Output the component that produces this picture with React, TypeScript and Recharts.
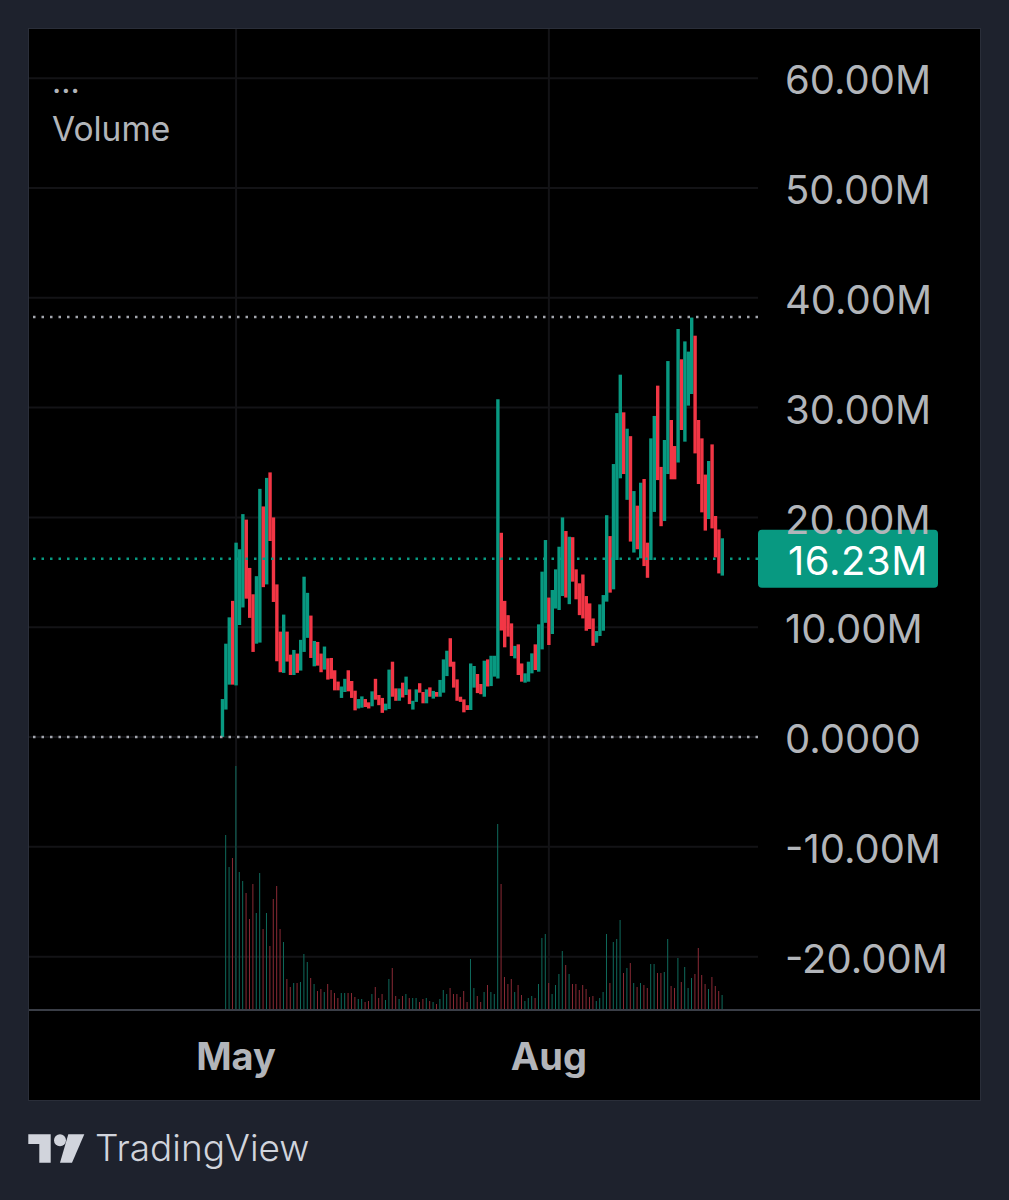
import React from 'react';
import { ComposedChart, Bar, Cell, XAxis, YAxis, CartesianGrid, ReferenceLine } from 'recharts';

// Daily candles, values in millions. U = up (green), D = down (red)
const directions = [
  'U','U','U','D','U','U','U','D','D','D','U','U','D','U','D','D','D','D','U','D',
  'D','U','D','U','U','U','D','U','D','D','U','D','D','D','D','U','U','D','D','D',
  'U','U','D','D','U','D','D','D','U','U','D','D','U','D','U','D','U','U','D','D',
  'U','D','U','D','U','U','U','D','D','D','D','D','D','U','U','D','D','U','D','U',
  'U','U','D','D','D','D','U','D','D','U','U','U','D','U','U','U','D','U','U','U',
  'U','D','U','D','D','D','D','D','D','D','U','U','U','U','D','U','U','U','D','U',
  'D','U','D','U','D','D','U','U','D','D','U','U','D','D','U','D','U','U','U','D',
  'D','D','D','U','D','D','D','U',
];
const lows = [
  0,2.5,4.77,4.77,4.7,10.2,11.8,12.6,10.85,7.75,8.5,8.6,13.65,13.9,17.85,12.3,6.9,5.9,5.84,6.87,
  5.65,5.65,5.84,6.05,7.75,9.03,7.2,6.44,6.5,5.9,6.14,5.23,5.3,4.25,4.25,3.56,4.1,4.16,3.56,2.43,
  2.6,2.67,2.73,2.6,2.8,3.4,2.9,2.2,2.43,2.55,3.67,3.3,3.3,3.6,3.83,3.0,2.5,3.2,4.04,3.07,
  3.07,3.67,3.5,3.67,3.67,4.04,5.55,6.4,4.5,3.3,3.2,2.25,2.46,2.46,4.5,4.0,3.9,3.67,4.6,4.64,
  5.5,5.34,9.7,8.17,9.14,7.38,7.16,5.65,5.04,4.95,5.04,5.8,6.1,5.95,7.98,10.4,8.38,9.38,11.7,11.57,
  12.84,12.7,12.1,14.15,12.54,11.1,10.8,9.68,9.84,8.3,8.6,9.2,9.68,12.33,13.15,13.45,16.12,23.56,23.95,21.6,
  17.8,16.8,17.1,16.27,15.57,14.5,16.12,20.5,23.4,19.2,19.67,23.95,23.47,23.47,25,27.96,26.9,30.18,31.24,25.83,
  23.04,20.46,18.8,19.85,19.0,16.36,14.9,14.7,
];
const highs = [
  3.46,8.5,10.9,12.4,17.7,17.1,20.3,19.8,15.4,13,14.65,22.6,21,23.6,24.1,20,13.9,9.6,11.15,9.6,
  7.5,7.93,7.6,8.85,14.6,13.13,11.06,8.75,8.66,7.6,8.24,7.17,7.2,6.08,5.05,4.6,5.3,6.08,5.1,4.22,
  3.46,3.7,3.46,3.16,4.16,5.3,3.83,3.56,3.04,6.14,6.86,4.43,4.43,4.95,5.5,4.34,3.3,4.34,4.9,4.1,
  4.34,4.52,4.2,4.1,5.2,7.07,7.86,9.0,6.86,5.25,3.67,3.43,2.9,6.7,6.47,5.74,4.83,6.95,7.07,7.4,
  7.4,30.75,18.6,12.4,11.1,10.35,8.3,8.44,6.7,5.8,6.86,7.62,8.44,10.26,15.06,17.94,12.7,13.39,15.27,17.33,
  20.0,18.76,18.24,18.2,15.27,14.0,14.8,12.84,12.17,10.8,9.65,12.08,12.93,20.2,18.3,24.86,29.5,33.0,29.57,28.08,
  27.4,22.4,21.07,23.16,23.5,17.7,27.2,29.24,32,24.6,27.05,34.24,28.87,26.5,37.16,34.4,36.03,35.1,38.2,36.55,
  28.87,27.2,23.9,25.14,26.65,20.13,18.9,18.1,
];
// Volume pane, in the pane's own units
const volumes = [
  0,175,143,152,244,138,129,117,91,126,97,137,81,97,64,111,124,81,68,31,
  23,27,27,28,56,48,32,26,19,21,18,26,20,17,12,17,17,17,17,13,
  11,11,8,9,16,23,12,16,10,31,42,14,11,14,16,12,12,12,8,11,
  12,9,8,6,11,20,16,22,16,16,13,19,8,51,22,14,8,18,25,18,
  16,186,126,33,26,31,18,25,15,9,12,14,12,26,72,76,27,16,25,36,
  59,45,36,26,26,20,25,21,13,14,9,12,18,76,27,68,71,90,37,42,
  47,27,23,27,25,22,46,46,37,37,38,71,24,22,52,28,43,22,32,36,
  62,35,26,21,33,24,19,15,
];
const priceTicks = [-20, -10, 0, 10, 20, 30, 40, 50, 60];
const priceTickLabels = ['-20.00M', '-10.00M', '0.0000', '10.00M', '20.00M', '30.00M', '40.00M', '50.00M', '60.00M'];
const monthTicks = [4, 96];
const monthLabels = ['May', 'Aug'];
const lastValue = 16.23;
const highMark = 38.25;

const GREEN = '#089981';
const RED = '#f23645';
const AXIS_TEXT = '#b2b5ba';
const FONT = 'Inter, "Noto Sans", sans-serif';

const rows = lows.map((low, i) => ({
  day: i,
  range: [low, highs[i]],
  volume: volumes[i],
  dir: directions[i],
}));

const fmtPrice = (v: number) => priceTickLabels[priceTicks.indexOf(v)] ?? '';
const fmtMonth = (v: number) => monthLabels[monthTicks.indexOf(v)] ?? '';

const badge = (props: any) => {
  const vb = props.viewBox;
  const y = vb.y;
  const x = vb.x + vb.width;
  return (
    <g>
      <rect x={x} y={y - 29} width={180} height={58} rx={4} fill={GREEN} />
      <text x={x + 30} y={y + 16} fill="#ffffff" fontFamily={FONT} fontSize={40} letterSpacing={0.6}>
        16.23M
      </text>
    </g>
  );
};

const abs = (s: React.CSSProperties): React.CSSProperties => ({ position: 'absolute', ...s });

export default function App() {
  return (
    <div style={abs({ left: 0, top: 0, width: 1009, height: 1200, background: '#1e222d', overflow: 'hidden' })}>
      <div
        style={abs({
          left: 28,
          top: 28,
          width: 953,
          height: 1073,
          background: '#000',
          border: '1px solid #2a2e39',
          boxSizing: 'border-box',
        })}
      />
      <div style={abs({ left: 0, top: 0 })}>
        <ComposedChart
          width={1009}
          height={1200}
          data={rows}
          margin={{ top: 29, left: 29, right: 29, bottom: 100 }}
          style={{ background: 'transparent' }}
        >
          <XAxis
            xAxisId="price"
            dataKey="day"
            type="number"
            domain={[-56.9, 157.5]}
            allowDataOverflow
            ticks={monthTicks}
            interval={0}
            tickFormatter={fmtMonth}
            axisLine={false}
            tickLine={false}
            tickSize={0}
            tickMargin={33}
            height={90}
            tick={{ fill: AXIS_TEXT, fontFamily: FONT, fontSize: 38, fontWeight: 700 }}
          />
          <XAxis
            xAxisId="volume"
            dataKey="day"
            type="number"
            domain={[-56.9, 157.5]}
            allowDataOverflow
            hide
          />
          <YAxis
            yAxisId="price"
            orientation="right"
            type="number"
            domain={[-24.86, 64.48]}
            allowDataOverflow
            ticks={priceTicks}
            interval={0}
            tickFormatter={fmtPrice}
            axisLine={false}
            tickLine={false}
            tickSize={0}
            tickMargin={27}
            width={222}
            tick={{ fill: AXIS_TEXT, fontFamily: FONT, fontSize: 40, dy: 2 }}
          />
          <YAxis yAxisId="volume" orientation="left" type="number" domain={[0, 981]} allowDataOverflow hide width={0} />
          <CartesianGrid
            xAxisId="price"
            yAxisId="price"
            stroke="#131316"
            strokeWidth={2}
            horizontalValues={priceTicks}
            verticalValues={monthTicks}
            syncWithTicks={false}
          />
          <Bar
            xAxisId="volume"
            yAxisId="volume"
            dataKey="volume"
            barSize={1}
            isAnimationActive={false}
          >
            {rows.map((r) => (
              <Cell key={r.day} fill={r.dir === 'U' ? '#0f6a5c' : '#8a2a35'} />
            ))}
          </Bar>
          <Bar xAxisId="price" yAxisId="price" dataKey="range" barSize={3.4} isAnimationActive={false}>
            {rows.map((r) => (
              <Cell key={r.day} fill={r.dir === 'U' ? GREEN : RED} />
            ))}
          </Bar>
          <ReferenceLine
            xAxisId="price"
            yAxisId="price"
            y={0}
            stroke="#a3a6ae"
            strokeWidth={2.5}
            strokeDasharray="2.5 6"
          />
          <ReferenceLine
            xAxisId="price"
            yAxisId="price"
            y={highMark}
            stroke="#a3a6ae"
            strokeWidth={2.5}
            strokeDasharray="2.5 6"
          />
          <ReferenceLine
            xAxisId="price"
            yAxisId="price"
            y={lastValue}
            stroke={GREEN}
            strokeWidth={2.5}
            strokeDasharray="2.5 6"
            label={badge}
          />
        </ComposedChart>
      </div>
      <div style={abs({ left: 29, top: 1009, width: 951, height: 2, background: '#3a3e47' })} />
      <div style={abs({ left: 52, top: 64, color: AXIS_TEXT, fontFamily: FONT, fontSize: 32, lineHeight: '36px' })}>...</div>
      <div style={abs({ left: 52, top: 109, color: AXIS_TEXT, fontFamily: FONT, fontSize: 33.5, lineHeight: '40px' })}>Volume</div>
      <svg style={abs({ left: 0, top: 1120 })} width={120} height={60}>
        <path d="M28.3 14.3H50.7V42.7H39.3V24H28.3Z" fill="#d1d4dc" />
        <circle cx={60} cy={20.3} r={6} fill="#d1d4dc" />
        <path d="M68.3 14.3H84.3L72 42.7H60Z" fill="#d1d4dc" />
      </svg>
      <div
        style={abs({
          left: 95,
          top: 1126,
          color: '#d1d4dc',
          fontFamily: FONT,
          fontSize: 37,
          fontWeight: 300,
          lineHeight: '44px',
        })}
      >
        TradingView
      </div>
    </div>
  );
}
